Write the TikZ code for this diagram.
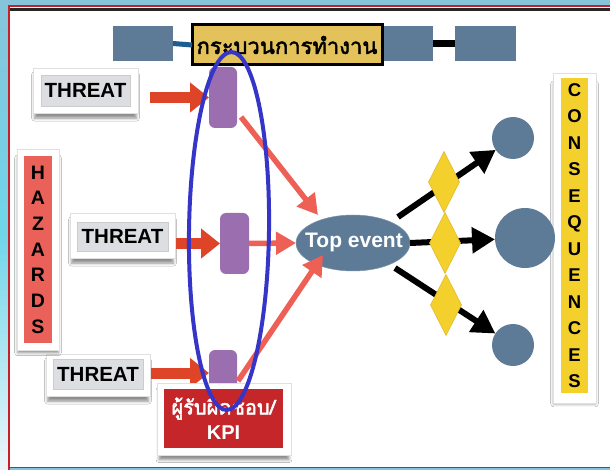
\documentclass[tikz,border=0pt]{standalone}
\usepackage{fontspec}
\setmainfont{Liberation Sans}
\newfontfamily\thaifont[Script=Thai, AutoFakeBold=2.2]{Loma}
\usetikzlibrary{shapes.geometric,arrows.meta,shadows.blur,calc}

\definecolor{skyback}{HTML}{86C4DA}
\definecolor{skycyan}{HTML}{6FD6EA}
\definecolor{frame}{HTML}{C8202A}
\definecolor{steel}{HTML}{5D7B97}
\definecolor{linkblue}{HTML}{1F5C8F}
\definecolor{plum}{HTML}{9A6EAF}
\definecolor{salmon}{HTML}{EE5F55}
\definecolor{flame}{HTML}{DE4427}
\definecolor{gold}{HTML}{F3D02C}
\definecolor{goldedge}{HTML}{E0B52A}
\definecolor{mustard}{HTML}{E3C25C}
\definecolor{labelgray}{HTML}{DDDEE1}
\definecolor{hazred}{HTML}{EA615A}
\definecolor{kpired}{HTML}{C4262A}
\definecolor{ringblue}{HTML}{3535C8}

\begin{document}
\begin{tikzpicture}[x=1pt,y=-1pt,
  box/.style={inner sep=0pt, outer sep=0pt},
  procbox/.style={box, fill=steel, minimum height=35pt},
  card/.style={box, fill=white, draw=black!12, line width=0.6pt,
    blur shadow={shadow xshift=0pt, shadow yshift=-6pt, shadow scale=0.97, shadow opacity=45, shadow blur radius=3pt}},
  tag/.style={box, fill=labelgray, draw=black!20, line width=0.4pt,
    font=\bfseries\fontsize{20.5}{20.5}\selectfont},
  stack/.style={box, align=center, font=\bfseries\fontsize{19.5}{25.7}\selectfont},
  gate/.style={box, fill=plum, rounded corners=6pt},
  push/.style={flame, line width=11pt, -{Triangle[length=19pt,width=29pt]}},
  feed/.style={salmon, line width=5.5pt, -{Triangle[length=20pt,width=22pt]}},
  outcome/.style={black, line width=6pt, -{Triangle[length=23pt,width=25pt]}},
  barrier/.style={box, diamond, fill=gold, draw=goldedge, line width=0.5pt,
    minimum width=31pt, minimum height=61pt},
  result/.style={box, circle, fill=steel}
]
\useasboundingbox (0,0) rectangle (610,470);

% backdrop and slide frame
\fill[skyback] (0,0) rectangle (610,470);
\shade[top color=skyback, bottom color=white!85!skyback, middle color=skycyan] (0,0) rectangle (9,470);
\fill[white] (9,6) rectangle (610,467);
\draw[frame, line width=2pt] (8.5,470) -- (8.5,6) -- (610,6);
\draw[black!85, line width=2.5pt] (9.5,9.5) -- (610,9.5);
\draw[frame, line width=1.5pt] (9,467.5) -- (610,467.5);

% process strip
\node[procbox, minimum width=60pt] (p1) at (143,43.5) {};
\node[procbox, minimum width=50pt] (p2) at (408,43.5) {};
\node[procbox, minimum width=61pt] (p3) at (485.5,43.5) {};
\draw[black, line width=7pt] (p2.east) -- (p3.west);
\node[box, fill=mustard, draw=black, line width=3pt, minimum width=190pt, minimum height=40pt,
  font=\thaifont\bfseries\fontsize{22}{22}\selectfont] (title) at (287,45) {กระบวนการทำงาน};
\draw[linkblue, line width=5pt] (p1.east) -- (title.west);

% threat cards
\node[card, minimum width=105pt, minimum height=45pt] (card1) at (85.5,90.5) {};
\node[tag, minimum width=89pt, minimum height=31pt] (threat1) at (85.5,90.5) {THREAT};
\node[card, minimum width=105pt, minimum height=45pt] (card2) at (122.5,235.5) {};
\node[tag, minimum width=91pt, minimum height=29pt] (threat2) at (122.5,236.5) {THREAT};
\node[card, minimum width=104pt, minimum height=42pt] (card3) at (98,375) {};
\node[tag, minimum width=90pt, minimum height=30pt] (threat3) at (98,374) {THREAT};

% hazards and consequences banners
\node[card, minimum width=42pt, minimum height=201pt] (hazcard) at (38,249.5) {};
\node[stack, fill=hazred, minimum width=28pt, minimum height=187pt] (hazards) at (38,249.5)
  {H\\A\\Z\\A\\R\\D\\S};
\node[card, minimum width=43pt, minimum height=330pt] (concard) at (574.5,238) {};
\node[stack, fill=gold, minimum width=27pt, minimum height=315pt,
  font=\bfseries\fontsize{18.5}{26.5}\selectfont] (consequences) at (574.5,235.5)
  {C\\O\\N\\S\\E\\Q\\U\\E\\N\\C\\E\\S};

% top event and outcomes
\node[box, ellipse, fill=steel, draw=steel!80!white, line width=0.5pt,
  minimum width=114pt, minimum height=56pt] (te) at (353,243) {};
\node[box, text=white, font=\bfseries\fontsize{21}{21}\selectfont] (telabel) at (354,242) {Top event};
\node[result, minimum size=42pt] (c1) at (513,138) {};
\node[result, minimum size=60pt] (c2) at (525,238) {};
\node[result, minimum size=42pt] (c3) at (513,345) {};

% preventive controls
\node[gate, minimum width=28pt, minimum height=61pt] (g1) at (223,97.5) {};
\node[gate, minimum width=29pt, minimum height=61pt] (g2) at (234.5,243.5) {};
\node[gate, minimum width=28pt, minimum height=56pt] (g3) at (223,378) {};
\draw[push] ([xshift=12pt]card1.east |- g1.west) -- (g1.west);
\draw[push] ([xshift=1pt]card2.east |- g2.west) -- (g2.west);
\draw[push] ([xshift=1pt]card3.east |- 0,373) -- (g3.west |- 0,373);

% threat paths into the top event
\draw[feed] ([xshift=4pt,yshift=11pt]g1.south east) -- ($(te.center)+(-35,-28)$);
\draw[feed] (g2.east) -- (te.west);
\draw[feed] ([xshift=1pt,yshift=-3pt]g3.east) -- ($(te.center)+(-30,12)$);

% consequence paths and mitigating barriers
\draw[outcome] ($(te.center)+(45,-26)$) -- (c1);
\draw[outcome] (te.east) -- (c2);
\draw[outcome] ($(te.center)+(42,25)$) -- (c3);
\node[barrier] (b1) at (444,182) {};
\node[barrier] (b2) at (445,243) {};
\node[barrier] (b3) at (446,305) {};

% owner / KPI tag
\node[card, minimum width=134pt, minimum height=72pt] (kpicard) at (224,419) {};
\node[box, fill=kpired, minimum width=119pt, minimum height=59pt, text=white, align=center,
  font=\bfseries\fontsize{20}{25}\selectfont] (kpi) at (223.5,418.5)
  {{\thaifont ผู้รับผิดชอบ/}\\KPI};

% highlight ring round the controls
\node[box, ellipse, draw=ringblue, line width=4pt, minimum width=80pt, minimum height=358pt,
  rotate=-0.8] (ring) at (229,231) {};
\end{tikzpicture}
\end{document}
